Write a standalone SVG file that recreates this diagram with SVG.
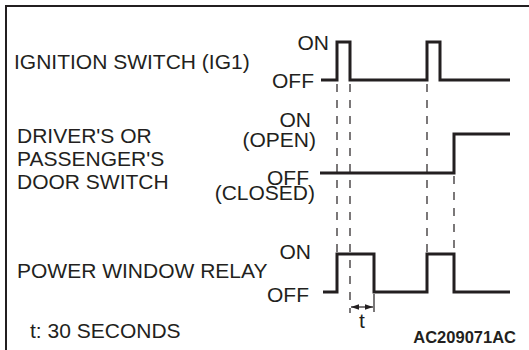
<svg xmlns="http://www.w3.org/2000/svg" width="529" height="350" viewBox="0 0 529 350">
<style>
.t{font-family:"Liberation Sans",Arial,sans-serif;font-size:21px;fill:#231f20}
.r{text-anchor:end}
.sig{fill:none;stroke:#231f20;stroke-width:3;stroke-linejoin:miter}
.d{fill:none;stroke:#231f20;stroke-width:1.2;stroke-dasharray:8 8}
</style>
<defs>
<marker id="ah" viewBox="0 0 10 10" refX="10" refY="5" markerWidth="8" markerHeight="8" markerUnits="userSpaceOnUse" orient="auto-start-reverse">
<path d="M0,1.5 L10,5 L0,8.5 Z" fill="#231f20"/>
</marker>
</defs>
<rect width="529" height="350" fill="#fff"/>
<path d="M6,350 V6 H529" fill="none" stroke="#231f20" stroke-width="2"/>
<g id="ig1">
<text class="t" x="14" y="69">IGNITION SWITCH (IG1)</text>
<text class="t r" x="329" y="50">ON</text>
<text class="t r" x="314" y="88">OFF</text>
<path class="sig" d="M321,80 H337 V42 H350 V80 H427 V42 H440 V80 H510"/>
</g>
<g id="door">
<text class="t" x="17" y="143">DRIVER'S OR</text>
<text class="t" x="17" y="166">PASSENGER'S</text>
<text class="t" x="17" y="189">DOOR SWITCH</text>
<text class="t r" x="311" y="127">ON</text>
<text class="t r" x="316" y="147">(OPEN)</text>
<text class="t r" x="309" y="185">OFF</text>
<text class="t r" x="315" y="200">(CLOSED)</text>
<path class="sig" d="M320,173 H454 V134 H510"/>
</g>
<g id="relay">
<text class="t" x="17" y="278">POWER WINDOW RELAY</text>
<text class="t r" x="311" y="259">ON</text>
<text class="t r" x="309" y="302">OFF</text>
<path class="sig" d="M323,292 H337 V254 H374 V292 H427 V254 H454 V292 H510"/>
</g>
<g id="connectors">
<path class="d" d="M337,84 V252 M350,84 V313 M427,84 V252 M454,176 V252"/>
<path d="M374,294 V312" stroke="#231f20" stroke-width="1.2"/>
<path d="M351,307 H373" stroke="#231f20" stroke-width="1.2" marker-start="url(#ah)" marker-end="url(#ah)"/>
</g>
<text class="t" x="362" y="328" text-anchor="middle">t</text>
<text class="t" x="30" y="338">t: 30 SECONDS</text>
<text class="t r" x="516" y="343" style="font-weight:bold;font-size:16.5px">AC209071AC</text>
</svg>
